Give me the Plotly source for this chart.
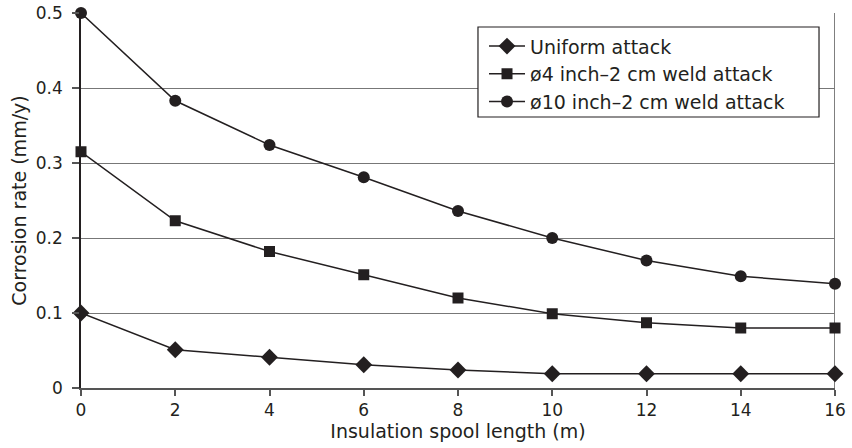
import plotly.graph_objects as go

x_len = [0, 2, 4, 6, 8, 10, 12, 14, 16]
uniform = [0.100, 0.051, 0.041, 0.031, 0.024, 0.019, 0.019, 0.019, 0.019]
weld4 = [0.315, 0.223, 0.182, 0.151, 0.120, 0.099, 0.087, 0.080, 0.080]
weld10 = [0.500, 0.383, 0.324, 0.281, 0.236, 0.200, 0.170, 0.149, 0.139]
names = ["Uniform attack", "ø4 inch–2 cm weld attack", "ø10 inch–2 cm weld attack"]
symbols = ["diamond", "square", "circle"]
sizes = [13, 11, 12]

INK = "#231f20"
fig = go.Figure()
for ys, nm, sym, sz in zip([uniform, weld4, weld10], names, symbols, sizes):
    fig.add_trace(go.Scatter(
        x=x_len, y=ys, name=nm, mode="lines+markers",
        line=dict(color=INK, width=1.5),
        marker=dict(symbol=sym, size=sz, color=INK),
        cliponaxis=False,
    ))

FAM = "DejaVu Sans, Liberation Sans, Arial, sans-serif"
font = dict(family=FAM, size=19, color=INK)
tfont = dict(family=FAM, size=17, color=INK)
fig.update_layout(
    width=852, height=448,
    margin=dict(l=81, r=17, t=13, b=60, autoexpand=False),
    paper_bgcolor="white", plot_bgcolor="white",
    font=font,
    showlegend=True,
    legend=dict(
        x=0.5345, y=0.962, xanchor="left", yanchor="top",
        borderwidth=0, bgcolor="rgba(0,0,0,0)",
        font=dict(family=FAM, size=19, color=INK), tracegroupgap=0,
        itemwidth=36,
    ),
)
fig.update_xaxes(
    range=[0, 16], tickvals=list(range(0, 17, 2)),
    showgrid=False, zeroline=False, automargin=False,
    showline=True, linecolor="#555555", linewidth=1.5,
    ticks="outside", ticklen=6, tickcolor="#555555", tickwidth=1.5,
    title=dict(text="Insulation spool length (m)", standoff=5, font=font),
    tickfont=tfont,
)
fig.update_yaxes(
    range=[0, 0.5], tickvals=[0, 0.1, 0.2, 0.3, 0.4, 0.5],
    ticktext=["0", "0.1", "0.2", "0.3", "0.4", "0.5"],
    showgrid=True, gridcolor="#777777", gridwidth=1,
    zeroline=False, automargin=False,
    showline=True, linecolor=INK, linewidth=1.5,
    ticks="outside", ticklen=7, tickcolor="#555555", tickwidth=1.5,
    ticklabelstandoff=6,
    title=dict(text="Corrosion rate (mm/y)", standoff=4, font=font),
    tickfont=tfont,
)
fig.add_shape(type="line", xref="x", yref="paper", x0=16, x1=16, y0=0, y1=1,
              line=dict(color="#555555", width=1.5), layer="below")
# legend frame
fig.add_shape(type="rect", xref="paper", yref="paper",
              x0=0.5265, x1=0.9788, y0=0.7227, y1=0.9627,
              line=dict(color=INK, width=1.2), fillcolor="white", layer="above")

fig.write_html("out.html")
